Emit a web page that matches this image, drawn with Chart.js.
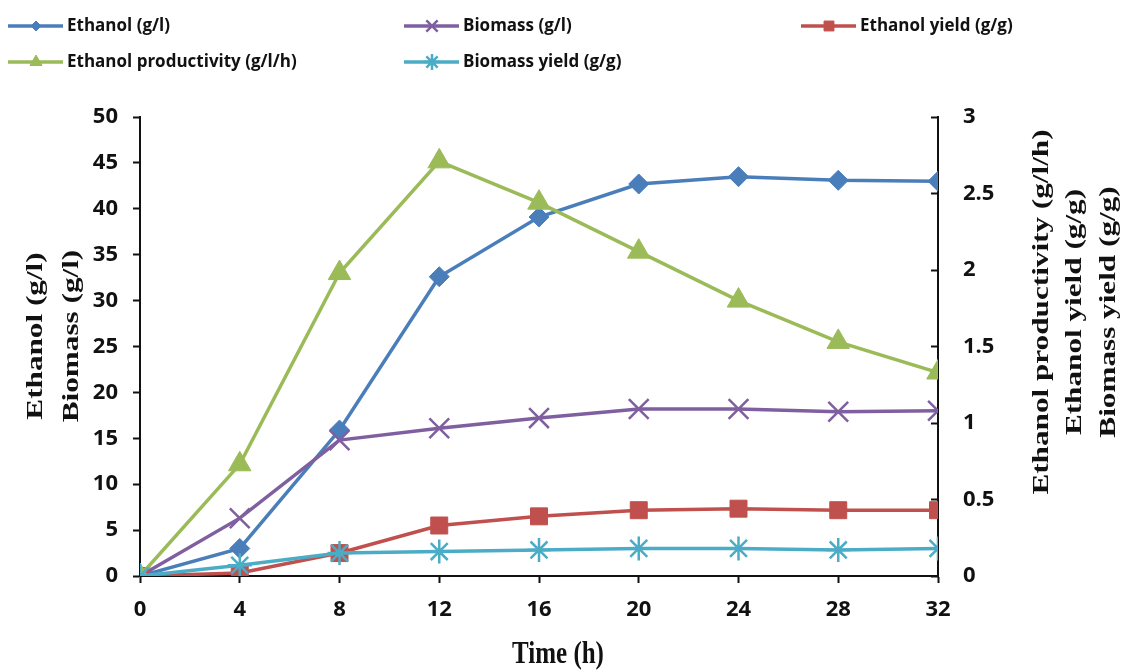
<!DOCTYPE html>
<html>
<head>
<meta charset="utf-8">
<script src="https://cdn.jsdelivr.net/npm/chart.js@4/dist/chart.umd.min.js"></script>
<style>
  html, body { margin: 0; padding: 0; background: #fff; }
  #wrap { position: relative; width: 1131px; height: 671px; }
</style>
</head>
<body>
<div id="wrap"><canvas id="c"></canvas></div>
<script>
// values
const hours = [0, 4, 8, 12, 16, 20, 24, 28, 32];
const ethanol = [0, 3.0, 15.9, 32.6, 39.1, 42.7, 43.5, 43.1, 43.0];
const biomass = [0, 6.3, 14.8, 16.1, 17.2, 18.2, 18.2, 17.9, 18.0];
const ethanolYield = [0, 0.02, 0.15, 0.33, 0.39, 0.43, 0.44, 0.43, 0.43];
const productivity = [0, 0.73, 1.98, 2.71, 2.44, 2.12, 1.80, 1.53, 1.33];
const biomassYield = [0, 0.07, 0.15, 0.16, 0.17, 0.18, 0.18, 0.17, 0.18];

const leftTicks = [0, 5, 10, 15, 20, 25, 30, 35, 40, 45, 50];
const rightTicks = [0, 0.5, 1, 1.5, 2, 2.5, 3];

const leftTitle = ['Ethanol (g/l)', 'Biomass (g/l)'];
const rightTitle = ['Ethanol productivity (g/l/h)', 'Ethanol yield (g/g)', 'Biomass yield (g/g)'];
const xTitle = 'Time (h)';

function pts(vals) {
  return hours.map((h, i) => ({ x: h, y: vals[i] }));
}

function series(label, vals, color, style, radius, axis, order, legendRadius) {
  return {
    label: label,
    data: pts(vals),
    yAxisID: axis,
    borderColor: color,
    backgroundColor: color,
    pointBackgroundColor: color,
    pointBorderColor: color,
    pointStyle: style,
    pointRadius: radius,
    pointHoverRadius: radius,
    pointBorderWidth: (style === 'crossRot' || style === 'star') ? 2.5 : 1,
    borderWidth: 3.5,
    tension: 0,
    order: order,
    legendRadius: legendRadius
  };
}

const datasets = [
  series('Ethanol (g/l)', ethanol, '#4a7ebb', 'rectRot', 10, 'y', 4, 5),
  series('Biomass (g/l)', biomass, '#7f5fa0', 'crossRot', 14, 'y', 3, 8),
  series('Ethanol yield (g/g)', ethanolYield, '#c0504d', 'rect', 12, 'y1', 2, 7),
  series('Ethanol productivity (g/l/h)', productivity, '#9bbb59', 'triangle', 13, 'y1', 1, 7),
  series('Biomass yield (g/g)', biomassYield, '#4bacc6', 'star', 12, 'y1', 0, 8)
];

// legend laid out in columns like the original
const legendSlots = [
  { x: 8, y: 26 }, { x: 404, y: 26 }, { x: 801, y: 26 },
  { x: 8, y: 62 }, { x: 404, y: 62 }
];

const legendPlugin = {
  id: 'colLegend',
  afterDraw(chart) {
    const ctx = chart.ctx;
    ctx.save();
    chart.data.datasets.forEach((ds, i) => {
      const s = legendSlots[i];
      ctx.strokeStyle = ds.borderColor;
      ctx.lineWidth = 3.5;
      ctx.beginPath();
      ctx.moveTo(s.x, s.y);
      ctx.lineTo(s.x + 55, s.y);
      ctx.stroke();
      ctx.fillStyle = ds.borderColor;
      ctx.lineWidth = ds.pointBorderWidth;
      Chart.helpers.drawPoint(ctx, {
        pointStyle: ds.pointStyle,
        radius: ds.legendRadius,
        borderWidth: ds.pointBorderWidth,
        rotation: 0
      }, s.x + 28, s.y);
      ctx.fillStyle = '#111';
      ctx.font = 'bold 17px "Open Sans"';
      ctx.textAlign = 'left';
      ctx.textBaseline = 'middle';
      ctx.fillText(ds.label, s.x + 59, s.y);
    });
    ctx.restore();
  }
};

// axis titles, right one reads bottom to top as in the original
const titlePlugin = {
  id: 'axisTitles',
  afterDraw(chart) {
    const ctx = chart.ctx;
    ctx.save();
    ctx.fillStyle = '#111';
    ctx.font = 'bold 24px "Liberation Serif"';
    ctx.textAlign = 'center';
    ctx.textBaseline = 'middle';
    const stretch = 1.3;
    const drawV = (lines, xs, cy) => {
      lines.forEach((t, i) => {
        ctx.save();
        ctx.translate(xs[i], cy);
        ctx.rotate(-Math.PI / 2);
        ctx.scale(stretch, 1);
        ctx.fillText(t, 0, 0);
        ctx.restore();
      });
    };
    drawV(leftTitle, [36, 72], 336);
    drawV(rightTitle, [1042, 1075, 1109], 312);
    ctx.save();
    ctx.translate(558, 655);
    ctx.scale(1, stretch);
    ctx.font = 'bold 25px "Liberation Serif"';
    ctx.fillText(xTitle, 0, 0);
    ctx.restore();
    ctx.restore();
  }
};

const tickFont = { family: 'Open Sans', size: 22, weight: 'bold' };

new Chart(document.getElementById('c'), {
  type: 'line',
  data: { datasets: datasets },
  plugins: [legendPlugin, titlePlugin],
  options: {
    responsive: true,
    maintainAspectRatio: false,
    animation: false,
    layout: { padding: { top: 117, left: 0, right: 0, bottom: 0 } },
    plugins: {
      legend: { display: false },
      tooltip: { enabled: false }
    },
    scales: {
      x: {
        type: 'linear',
        min: 0,
        max: 32,
        afterBuildTicks: (s) => { s.ticks = hours.map(v => ({ value: v })); },
        afterFit: (s) => { s.height = 95; },
        ticks: { font: tickFont, color: '#111', padding: 14 },
        grid: { drawOnChartArea: false, tickLength: 7, tickWidth: 2, tickColor: '#111' },
        border: { color: '#111', width: 2 }
      },
      y: {
        position: 'left',
        min: 0,
        max: 50,
        afterBuildTicks: (s) => { s.ticks = leftTicks.map(v => ({ value: v })); },
        afterFit: (s) => { s.width = 140; },
        ticks: { font: tickFont, color: '#111', padding: 15 },
        grid: { drawOnChartArea: false, tickLength: 7, tickWidth: 2, tickColor: '#111' },
        border: { color: '#111', width: 2 }
      },
      y1: {
        position: 'right',
        min: 0,
        max: 3,
        afterBuildTicks: (s) => { s.ticks = rightTicks.map(v => ({ value: v })); },
        afterFit: (s) => { s.width = 193; },
        ticks: { font: tickFont, color: '#111', padding: 32, callback: (v) => String(v) },
        grid: { drawOnChartArea: false, tickLength: -7, tickWidth: 2, tickColor: '#111' },
        border: { color: '#111', width: 2 }
      }
    }
  }
});
</script>
</body>
</html>
